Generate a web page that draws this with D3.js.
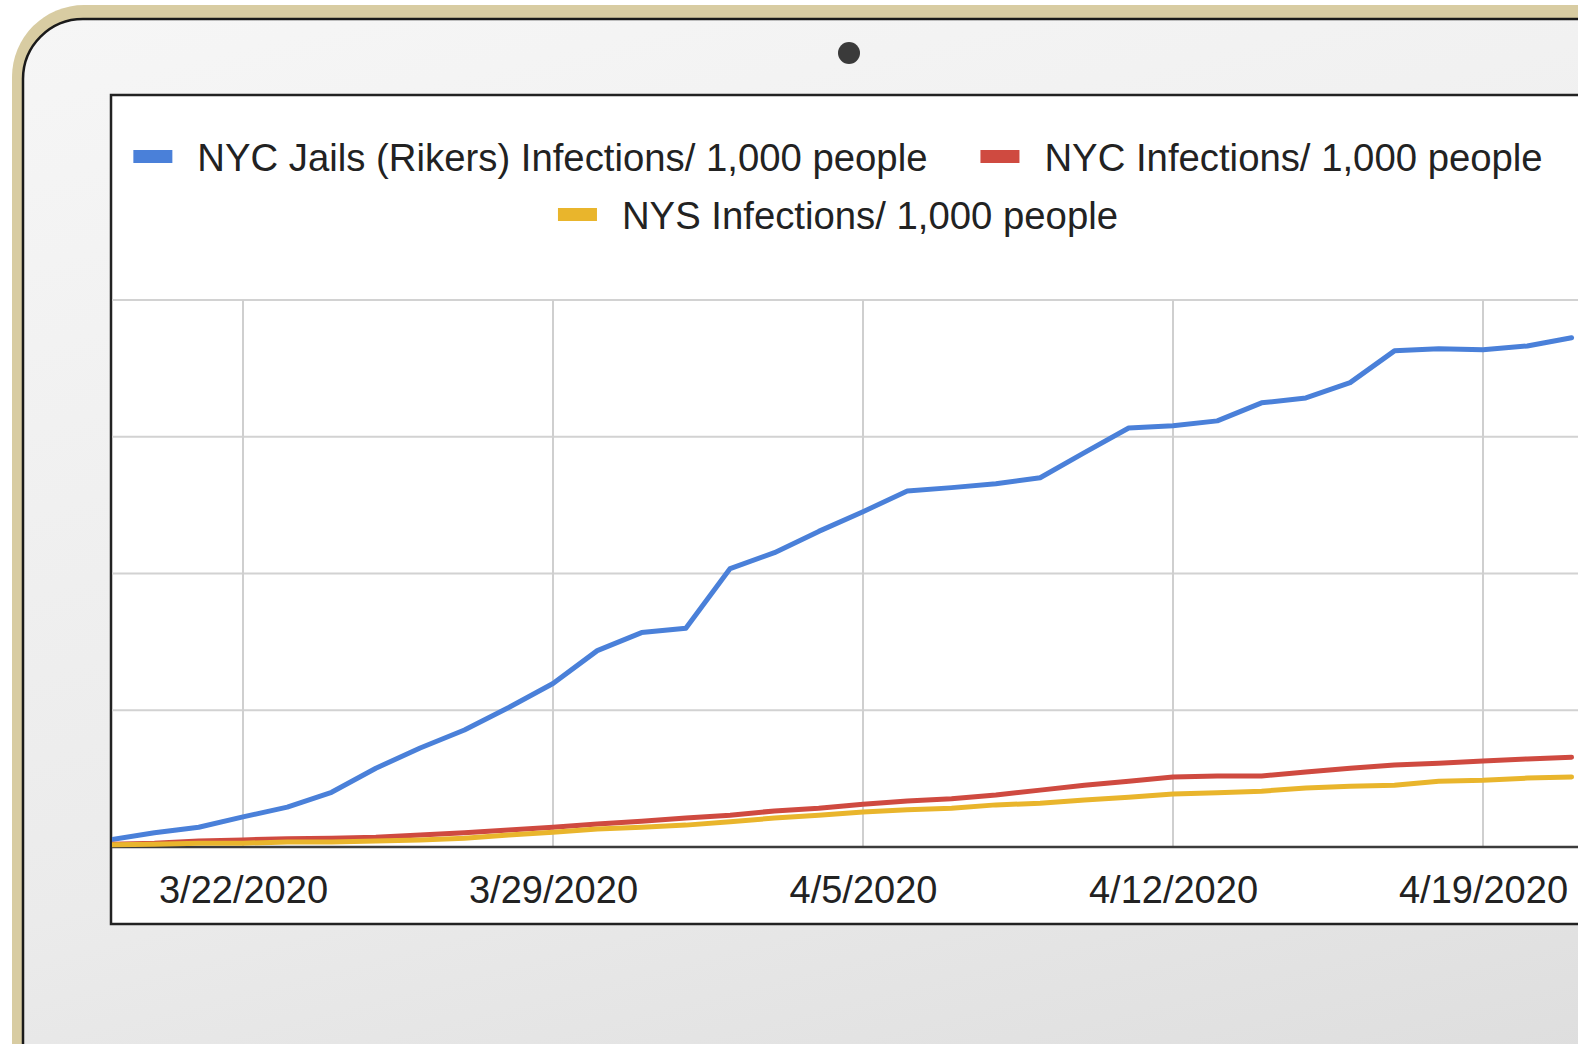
<!DOCTYPE html>
<html><head><meta charset="utf-8">
<script src="https://cdn.jsdelivr.net/npm/d3@7"></script>
<style>html,body{margin:0;padding:0;background:#fff;overflow:hidden}</style>
</head><body><svg id="c" width="1578" height="1044"></svg>
<script>
// ---- data ----
const dates = ["2020-03-19","2020-03-20","2020-03-21","2020-03-22","2020-03-23","2020-03-24","2020-03-25",
  "2020-03-26","2020-03-27","2020-03-28","2020-03-29","2020-03-30","2020-03-31","2020-04-01","2020-04-02",
  "2020-04-03","2020-04-04","2020-04-05","2020-04-06","2020-04-07","2020-04-08","2020-04-09","2020-04-10",
  "2020-04-11","2020-04-12","2020-04-13","2020-04-14","2020-04-15","2020-04-16","2020-04-17","2020-04-18",
  "2020-04-19","2020-04-20","2020-04-21"];
const rikers = [1.3,2.6,3.6,5.5,7.3,10.0,14.4,18.1,21.4,25.5,29.9,35.9,39.2,40.0,50.9,53.8,57.7,61.3,65.1,65.7,
  66.4,67.5,72.1,76.6,77.0,77.9,81.2,82.1,84.9,90.7,91.1,90.9,91.6,93.1];
const nyc = [0.5,0.7,1.1,1.3,1.5,1.6,1.8,2.2,2.6,3.1,3.6,4.2,4.7,5.3,5.8,6.6,7.1,7.8,8.4,8.8,9.5,10.4,11.3,12.0,
  12.8,13.0,13.0,13.7,14.4,15.0,15.3,15.7,16.1,16.4];
const nys = [0.4,0.5,0.7,0.7,0.9,0.9,1.1,1.3,1.6,2.2,2.7,3.3,3.6,4.0,4.6,5.3,5.8,6.4,6.8,7.1,7.7,8.0,8.6,9.1,
  9.7,9.9,10.2,10.8,11.1,11.3,12.0,12.2,12.6,12.8];
const tickLabels = ["3/22/2020","3/29/2020","4/5/2020","4/12/2020","4/19/2020"];
const yGridValues = [25,50,75,100];
const seriesNames = ["NYC Jails (Rikers) Infections/ 1,000 people","NYC Infections/ 1,000 people","NYS Infections/ 1,000 people"];
const seriesColors = ["#4a80d9","#cf4a40","#e9b52c"];

// ---- drawing ----
const W = 1578, H = 1044;
const svg = d3.select("#c");
const parse = d3.utcParse("%Y-%m-%d");
const parseTick = d3.utcParse("%m/%d/%Y");
const FONT = "'Liberation Sans', Arial, sans-serif";

const defs = svg.append("defs");
const g1 = defs.append("linearGradient").attr("id","bz").attr("x1",0).attr("y1",0).attr("x2",0.35).attr("y2",1);
g1.append("stop").attr("offset",0).attr("stop-color","#f6f6f6");
g1.append("stop").attr("offset",0.6).attr("stop-color","#ebebeb");
g1.append("stop").attr("offset",1).attr("stop-color","#dcdcdc");
defs.append("clipPath").attr("id","scr").append("rect")
  .attr("x",112).attr("y",96).attr("width",W).attr("height",827);

// bezel
svg.append("rect").attr("x",12).attr("y",5).attr("width",W+300).attr("height",H+300)
  .attr("rx",72).attr("fill","#d8cca2");
svg.append("rect").attr("x",23).attr("y",19).attr("width",W+300).attr("height",H+300)
  .attr("rx",60).attr("fill","url(#bz)").attr("stroke","#1a1a1a").attr("stroke-width",2.5);
svg.append("circle").attr("cx",849).attr("cy",53).attr("r",11).attr("fill","#3a3a3a");

// screen
svg.append("rect").attr("x",111).attr("y",95).attr("width",W).attr("height",829)
  .attr("fill","#fff").attr("stroke","#222").attr("stroke-width",2.5);

const x = d3.scaleUtc().domain([parse("2020-03-22"), parse("2020-04-19")]).range([243, 1483]);
const y = d3.scaleLinear().domain([0,100]).range([847,300]);

const plot = svg.append("g").attr("clip-path","url(#scr)");
const tickDates = tickLabels.map(parseTick);

// gridlines
plot.selectAll(".hg").data(yGridValues).join("line")
  .attr("x1",111).attr("x2",W).attr("y1",d=>y(d)).attr("y2",d=>y(d))
  .attr("stroke","#d2d2d2").attr("stroke-width",2);
plot.selectAll(".vg").data(tickDates).join("line")
  .attr("x1",d=>x(d)).attr("x2",d=>x(d)).attr("y1",y(100)).attr("y2",y(0))
  .attr("stroke","#cfcfcf").attr("stroke-width",2);
plot.append("line").attr("x1",111).attr("x2",W).attr("y1",y(0)).attr("y2",y(0))
  .attr("stroke","#3c3c3c").attr("stroke-width",2.5);

// series
const series = [rikers, nyc, nys];
const line = d3.line().x((d,i)=>x(parse(dates[i]))).y(d=>y(d));
series.forEach((s,k)=>{
  plot.append("path").datum(s).attr("d",line).attr("fill","none")
    .attr("stroke",seriesColors[k]).attr("stroke-width",5)
    .attr("stroke-linejoin","round").attr("stroke-linecap","round");
});

// x axis labels
const ax = svg.append("g").attr("transform",`translate(0,${y(0)})`)
  .call(d3.axisBottom(x).tickValues(tickDates).tickSize(0).tickFormat((d,i)=>tickLabels[i]));
ax.select(".domain").remove();
ax.selectAll("text").attr("y",56).attr("dy",0)
  .style("font-family",FONT).style("font-size","38px").attr("fill","#222");

// legend
const rows = [[0,1],[2]];
const rowBase = [171,229];
const cx = 838, swW = 39, swH = 13, gap = 25, itemGap = 53;
rows.forEach((row,r)=>{
  const g = svg.append("g");
  const items = row.map(k=>{
    const it = g.append("g");
    it.append("rect").attr("width",swW).attr("height",swH).attr("y",rowBase[r]-21).attr("fill",seriesColors[k]);
    const t = it.append("text").attr("x",swW+gap).attr("y",rowBase[r]).text(seriesNames[k])
      .style("font-family",FONT).style("font-size","38.3px").attr("fill","#222");
    return {it, w: swW+gap+t.node().getComputedTextLength()};
  });
  const total = d3.sum(items,d=>d.w) + itemGap*(items.length-1);
  let cur = cx - total/2;
  items.forEach(d=>{ d.it.attr("transform",`translate(${cur},0)`); cur += d.w + itemGap; });
});
</script></body></html>
